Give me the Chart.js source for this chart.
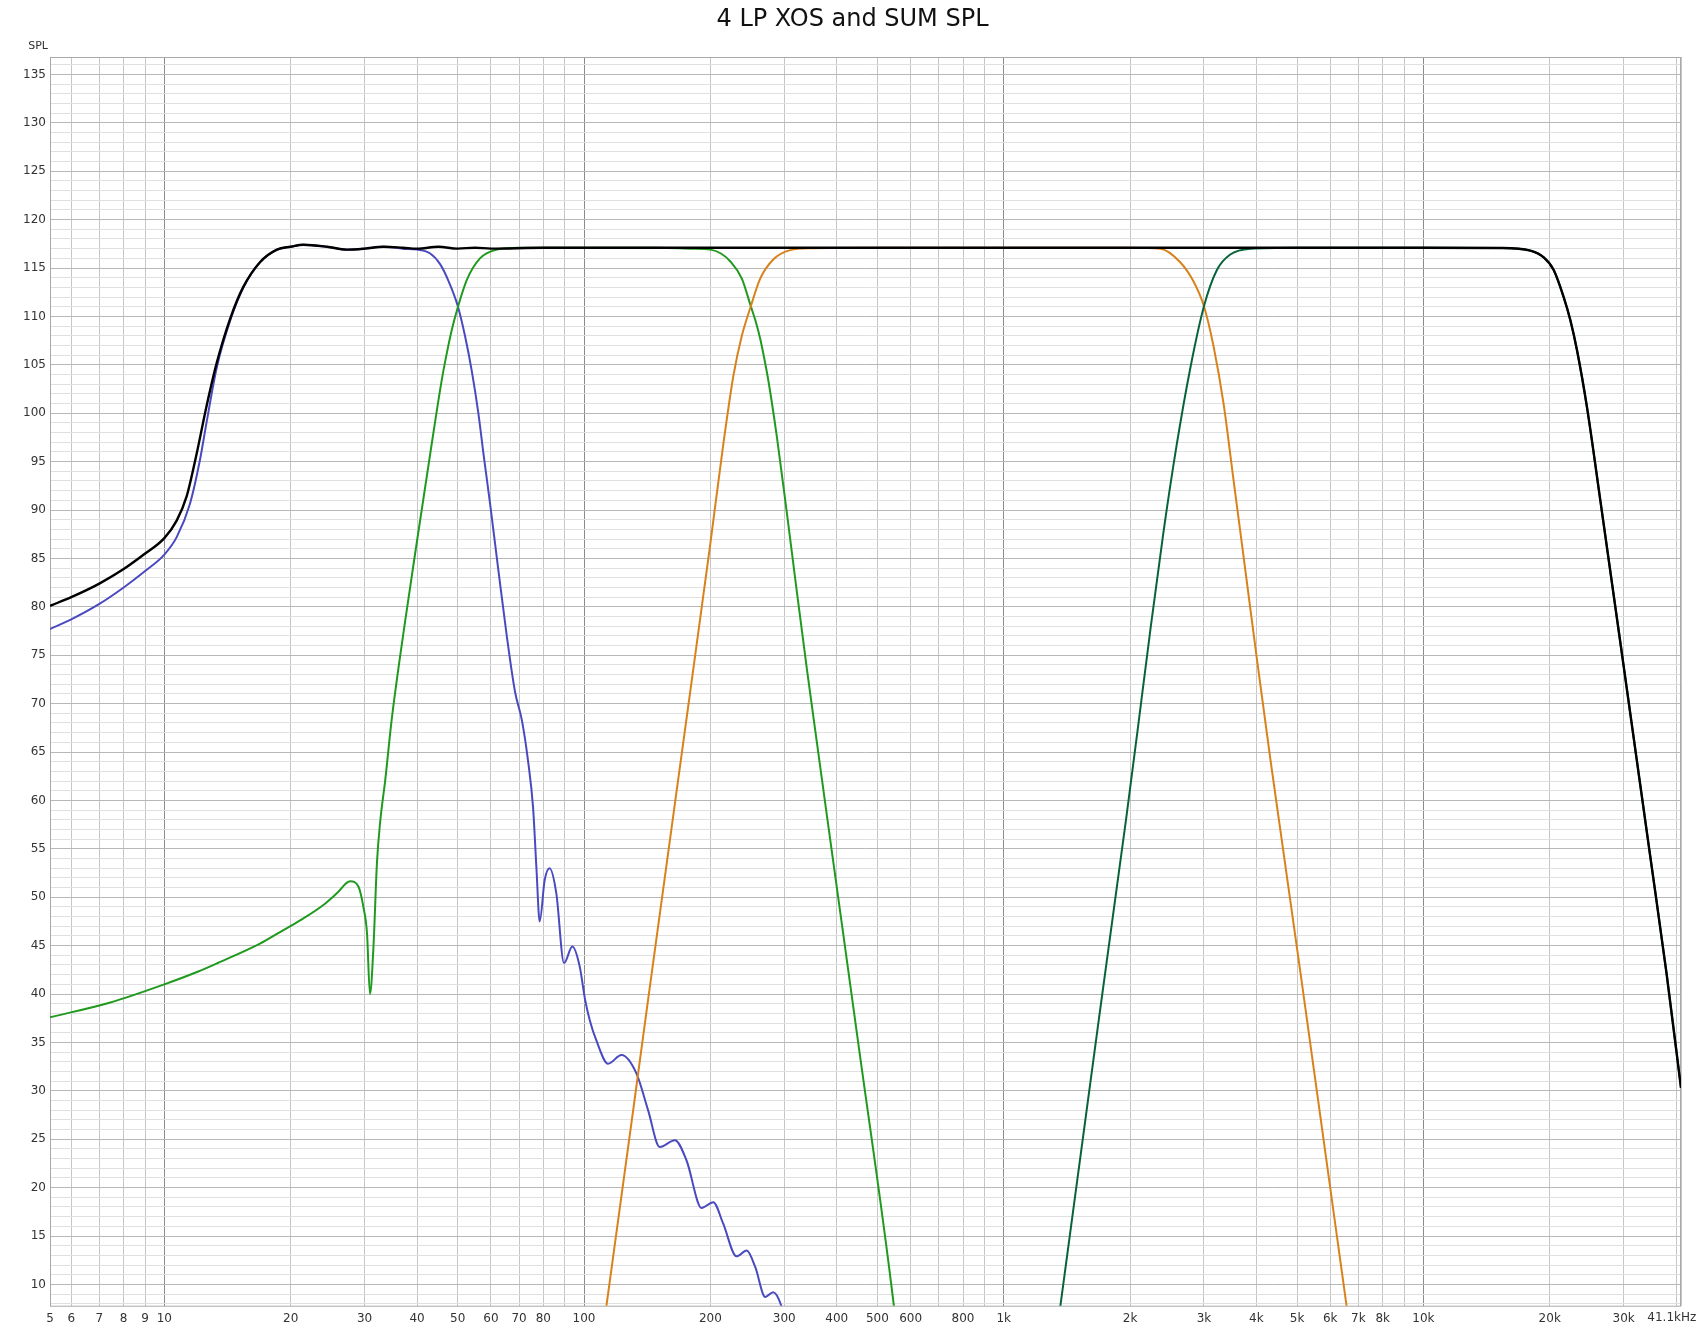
<!DOCTYPE html>
<html>
<head>
<meta charset="utf-8">
<title>4 LP XOS and SUM SPL</title>
<script src="https://cdn.jsdelivr.net/npm/chart.js@4.4.1/dist/chart.umd.min.js"></script>
<style>
    html, body { margin: 0; padding: 0; background: #fff; }
    #wrap { width: 1705px; height: 1329px; }
</style>
</head>
<body>
<div id="wrap"><canvas id="splChart" width="1705" height="1329"></canvas></div>
<script>
// frequency axis range (Hz) and dB range
const freqMin = 5.34;
const freqMax = 41100;
const splMin = 7.8;
const splMax = 136.8;

// vertical grid positions and which of them get a label
const freqGrid = [6, 7, 8, 9, 10, 20, 30, 40, 50, 60, 70, 80, 90, 100, 200, 300, 400, 500, 600, 700, 800, 900,
    1000, 2000, 3000, 4000, 5000, 6000, 7000, 8000, 9000, 10000, 20000, 30000, 40000];
const freqLabels = {
    5.34: "5", 6: "6", 7: "7", 8: "8", 9: "9", 10: "10", 20: "20", 30: "30", 40: "40", 50: "50",
    60: "60", 70: "70", 80: "80", 100: "100", 200: "200", 300: "300", 400: "400", 500: "500",
    600: "600", 800: "800", 1000: "1k", 2000: "2k", 3000: "3k", 4000: "4k", 5000: "5k",
    6000: "6k", 7000: "7k", 8000: "8k", 10000: "10k", 20000: "20k", 30000: "30k"
};

// SUM (black)
const sumFreq = [5.34, 6, 7, 8, 9, 10, 10.7, 11.3, 11.95, 12.6, 13.33, 14.36, 15.4, 16.9, 18.55, 20, 21.45, 24.4,
    27.2, 30, 33.3, 37, 40, 45, 50, 55, 60, 80, 100, 200, 500, 1000, 2000, 5000, 10000, 15260, 17980, 19350,
    20440, 21590, 22400, 23230, 24540, 26400, 30000, 34700, 38000, 41100];
const sumSpl = [80.1, 81.0, 82.4, 83.9, 85.5, 87.1, 88.9, 91.4, 95.9, 100.7, 105.2, 109.8, 113.0, 115.6, 116.9,
    117.2, 117.4, 117.2, 116.9, 117.0, 117.2, 117.1, 117.0, 117.2, 117.0, 117.1, 117.0, 117.1, 117.1, 117.1,
    117.1, 117.1, 117.1, 117.1, 117.1, 117.07, 116.8, 116.1, 114.8, 112.0, 109.6, 106.5, 100.6, 91.0, 73.9,
    54.3, 42.0, 30.3];

// LP sub (blue)
const subFreq = [5.34, 6, 7, 8, 9, 10, 10.7, 11.5, 12.16, 12.6, 13.33, 14.36, 15.4, 16.9, 18.55, 20, 21.45, 24.4,
    27.2, 30, 33.3, 37, 40, 43, 45.4, 47.5, 50, 52.1, 54, 56, 57.6, 59.7, 62.5, 65.5, 68.5, 71.1, 73.5, 75.6,
    77, 78.4, 80.6, 82.8, 85.9, 89.6, 93.8, 97.7, 100.5, 103.2, 107, 114.1, 122.8, 133.3, 142.1, 151.5, 164.6,
    175.5, 190.6, 203.2, 214.5, 230.9, 244.1, 255.8, 270.4, 282.3, 295.2, 302];
const subSpl = [77.7, 78.7, 80.3, 82.0, 83.7, 85.4, 87.2, 90.6, 95.2, 99.0, 104.7, 109.6, 112.9, 115.6, 116.9,
    117.2, 117.4, 117.2, 116.9, 117.0, 117.2, 117.0, 116.9, 116.5, 115.4, 113.7, 111.1, 107.9, 104.4, 100.0,
    95.8, 90.7, 83.8, 76.9, 71.2, 68.3, 64.2, 59.3, 53.1, 47.5, 51.8, 53.0, 50.4, 43.2, 44.9, 42.8, 39.5, 37.3,
    35.2, 32.8, 33.7, 31.8, 28.0, 24.2, 24.9, 22.8, 17.9, 18.5, 16.3, 12.9, 13.5, 11.8, 8.7, 9.2, 7.8, 6.0];

// low mid (green)
const lowFreq = [5.34, 7.4, 10, 12, 13.4, 16.9, 18.87, 21.06, 23.93, 25.76, 27.71, 29.0, 29.8, 30.4, 30.9, 31.5,
    32.1, 32.7, 33.6, 34.8, 37.5, 40, 43, 45.8, 47, 48.4, 50, 52.6, 56.5, 62, 70, 100, 150, 180, 200, 212, 222.9,
    237.7, 249.7, 256, 262.9, 269, 275.1, 288, 304.3, 321.6, 339.6, 358.8, 380.3, 450, 547, 565];
const lowSpl = [37.6, 39.1, 41.0, 42.3, 43.2, 45.2, 46.4, 47.6, 49.2, 50.4, 51.65, 51.1, 49.0, 46.3, 40.0, 44.9,
    53.5, 57.9, 62.1, 68.3, 78.6, 86.8, 95.8, 103.4, 106.0, 108.6, 110.9, 113.8, 116.0, 116.9, 117.1, 117.1,
    117.1, 117.0, 116.9, 116.5, 115.7, 113.9, 111.05, 109.6, 107.7, 105.6, 103.3, 97.6, 89.7, 81.5, 73.6, 66.0,
    58.0, 35.0, 7.9, 2.2];

// mid (orange)
const midFreq = [111, 113.1, 142.1, 169.4, 178, 199.8, 214.9, 227, 237.7, 249.7, 262.9, 282.8, 310, 350, 500,
    1000, 2000, 2361, 2634, 2834, 3000, 3163, 3341, 3529, 3728, 4012, 4315, 4560, 6560, 6750];
const midSpl = [5.4, 7.8, 39.4, 63.6, 70.4, 86.4, 96.9, 103.9, 108.0, 111.05, 113.9, 115.9, 116.85, 117.05, 117.1,
    117.1, 117.1, 117.0, 115.6, 113.6, 111.05, 106.9, 101.0, 93.1, 85.2, 74.6, 64.4, 57.0, 7.8, 3.5];

// high (dark green)
const highFreq = [1340, 1365, 1959, 2077, 2234, 2404, 2585, 2782, 3000, 3221, 3466, 3869, 5000, 10000, 15260,
    17980, 19350, 20440, 21590, 22400, 23230, 24540, 26400, 30000, 34700, 38000, 41100];
const highSpl = [4.9, 7.8, 58.2, 66.7, 77.5, 87.8, 96.8, 104.6, 111.05, 114.8, 116.4, 117.0, 117.1, 117.1, 117.07,
    116.8, 116.1, 114.8, 112.0, 109.6, 106.5, 100.6, 91.0, 73.9, 54.3, 42.0, 30.3];

const FONT = "'DejaVu Sans', 'Liberation Sans', sans-serif";

function toPoints(freqs, spls) {
    return freqs.map((f, i) => ({ x: f, y: spls[i] }));
}

function isDecade(v) {
    return [10, 100, 1000, 10000].includes(v);
}

function makeLine(label, freqs, spls, color, width) {
    return {
        label: label,
        data: toPoints(freqs, spls),
        borderColor: color,
        borderWidth: width,
        pointRadius: 0,
        fill: false,
        cubicInterpolationMode: "monotone"
    };
}

const framePlugin = {
    id: "frame",
    beforeDatasetsDraw(chart) {
        const { ctx, chartArea: a } = chart;
        ctx.save();
        ctx.strokeStyle = "#a9a9a9";
        ctx.lineWidth = 1;
        ctx.strokeRect(a.left + 0.5, a.top + 0.5, a.right - a.left - 1, a.bottom - a.top);
        ctx.restore();
    },
    afterDraw(chart) {
        const { ctx } = chart;
        ctx.save();
        ctx.fillStyle = "#111";
        ctx.font = "24px " + FONT;
        ctx.textAlign = "center";
        ctx.textBaseline = "middle";
        ctx.fillText("4 LP XOS and SUM SPL", chart.width / 2, 20);

        ctx.fillStyle = "#333";
        ctx.font = "11px " + FONT;
        ctx.textAlign = "right";
        ctx.fillText("SPL", 48, 46);

        // last frequency label sits flush with the right edge, unit after it
        const xr = chart.scales.x.getPixelForValue(freqMax);
        ctx.font = "12px " + FONT;
        ctx.fillText("41.1k", xr, 1318);
        ctx.textAlign = "left";
        ctx.fillText("Hz", xr, 1318);
        ctx.restore();
    }
};

new Chart(document.getElementById("splChart"), {
    type: "line",
    data: {
        datasets: [
            makeLine("SUM", sumFreq, sumSpl, "#000000", 2.4),
            makeLine("LP 4", highFreq, highSpl, "#07643a", 2),
            makeLine("LP 3", midFreq, midSpl, "#d9821c", 2),
            makeLine("LP 2", lowFreq, lowSpl, "#1f9a1f", 2),
            makeLine("LP 1", subFreq, subSpl, "#4a4ac0", 2)
        ]
    },
    options: {
        responsive: false,
        animation: false,
        devicePixelRatio: 1,
        layout: { padding: { top: 57, right: 24, left: 0, bottom: 0 } },
        plugins: {
            legend: { display: false },
            tooltip: { enabled: false },
            title: { display: false }
        },
        scales: {
            x: {
                type: "logarithmic",
                min: freqMin,
                max: freqMax,
                afterBuildTicks(scale) {
                    scale.ticks = [freqMin, ...freqGrid, freqMax].map(v => ({ value: v }));
                },
                afterFit(scale) { scale.height = 23.3; },
                grid: {
                    drawTicks: false,
                    color: ctx => (ctx.tick && isDecade(ctx.tick.value)) ? "#8a8a8a" : "#c6c6c6",
                    lineWidth: 1
                },
                border: { display: false },
                ticks: {
                    autoSkip: false,
                    maxRotation: 0,
                    padding: 6,
                    color: "#333",
                    font: { family: FONT, size: 12 },
                    callback: value => freqLabels[value] || ""
                }
            },
            y: {
                type: "linear",
                min: splMin,
                max: splMax,
                afterBuildTicks(scale) {
                    const t = [];
                    for (let v = 8; v <= 136; v++) t.push({ value: v });
                    scale.ticks = t;
                },
                afterFit(scale) { scale.width = 50; },
                grid: {
                    drawTicks: false,
                    color: ctx => (ctx.tick && ctx.tick.value % 5 === 0) ? "#b8b8b8" : "#e0e0e0",
                    lineWidth: 1
                },
                border: { display: false },
                ticks: {
                    autoSkip: false,
                    padding: 4,
                    color: "#333",
                    font: { family: FONT, size: 12 },
                    callback: value => (value % 5 === 0) ? String(value) : ""
                }
            }
        }
    },
    plugins: [framePlugin]
});
</script>
</body>
</html>
